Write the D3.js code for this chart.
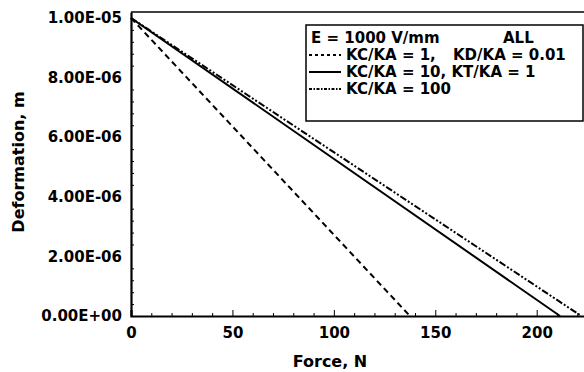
<!DOCTYPE html>
<html>
<head>
<script src="https://d3js.org/d3.v7.min.js"></script>
<style>
  body { margin: 0; background: #fff; }
  text { font-family: "DejaVu Sans", sans-serif; font-weight: bold; fill: #000; }
</style>
</head>
<body>
<svg id="chart" width="584" height="372"></svg>
<script>
// force (N) vs deformation (m), straight lines
const forceDashed = [0, 137.5];
const defDashed = [1e-5, 0];
const forceSolid = [0, 211.5];
const defSolid = [1e-5, 0];
const forceDashDot = [0, 222];
const defDashDot = [1e-5, 0];

const xTicks = [0, 50, 100, 150, 200];
const yTicks = [0, 2e-6, 4e-6, 6e-6, 8e-6, 1e-5];
const yTickLabels = ["0.00E+00", "2.00E-06", "4.00E-06", "6.00E-06", "8.00E-06", "1.00E-05"];

const legendTitle = "E = 1000 V/mm";
const legendTag = "ALL";
const legendRows = ["KC/KA = 1,", "KC/KA = 10, KT/KA = 1", "KC/KA = 100"];
const legendExtra = ["KD/KA = 0.01", "", ""];

const svg = d3.select('svg#chart');
const margins = {left: 131, top: 12, bottom: 316};

const xScale = d3.scaleLinear().domain([0, 230]).range([margins.left, margins.left + 230 * 2.0285]);
const yScale = d3.scaleLinear().domain([0, 1.02e-5]).range([margins.bottom, margins.top]);

// frame: top border
svg.append('line')
  .attr('x1', margins.left).attr('x2', 584).attr('y1', margins.top).attr('y2', margins.top)
  .attr('stroke', '#000').attr('stroke-width', 1.5);

// x axis, ticks pointing inward
const xMinor = d3.range(0, 230, 10).filter(v => v % 50 !== 0);
svg.append('g')
  .attr('transform', `translate(0,${margins.bottom})`)
  .call(d3.axisBottom(xScale).tickValues(xMinor).tickSize(-3).tickFormat(''))
  .call(g => g.select('.domain').remove());
const xAxis = svg.append('g')
  .attr('transform', `translate(0,${margins.bottom})`)
  .call(d3.axisBottom(xScale).tickValues(xTicks).tickSize(-6).tickPadding(14));
xAxis.select('.domain').attr('stroke-width', 2.2);
xAxis.selectAll('.tick text').style('font-size', '15px').attr('dy', '0.55em');

// y axis
const yMinor = d3.range(0, 10.2, 0.4).map(v => v * 1e-6).filter(v => Math.abs((v / 2e-6) - Math.round(v / 2e-6)) > 0.01);
svg.append('g')
  .attr('transform', `translate(${margins.left},0)`)
  .call(d3.axisLeft(yScale).tickValues(yMinor).tickSize(-3).tickFormat(''))
  .call(g => g.select('.domain').remove());
const yAxis = svg.append('g')
  .attr('transform', `translate(${margins.left},0)`)
  .call(d3.axisLeft(yScale).tickValues(yTicks).tickSize(0).tickPadding(9)
    .tickFormat((d, i) => yTickLabels[i]));
yAxis.select('.domain').attr('stroke-width', 2.2);
yAxis.selectAll('.tick text').style('font-size', '15px');

// axis titles
svg.append('text')
  .attr('x', 330).attr('y', 367)
  .attr('text-anchor', 'middle')
  .style('font-size', '16px')
  .text('Force, N');
svg.append('text')
  .attr('transform', 'translate(24,162) rotate(-90)')
  .attr('text-anchor', 'middle')
  .style('font-size', '16px')
  .text('Deformation, m');

// lines
const line = d3.line().x(d => xScale(d[0])).y(d => yScale(d[1]));
const series = [
  { f: forceDashed, d: defDashed, dash: '6,4' },
  { f: forceSolid, d: defSolid, dash: null },
  { f: forceDashDot, d: defDashDot, dash: '7,2,2,2,2,2' }
];
series.forEach(s => {
  svg.append('path')
    .datum(s.f.map((v, i) => [v, s.d[i]]))
    .attr('d', line)
    .attr('fill', 'none')
    .attr('stroke', '#000')
    .attr('stroke-width', 2)
    .attr('stroke-dasharray', s.dash);
});

// legend
const lg = svg.append('g');
lg.append('rect')
  .attr('x', 306).attr('y', 25).attr('width', 277).attr('height', 96)
  .attr('fill', '#fff').attr('stroke', '#000').attr('stroke-width', 1.5);
lg.append('text').attr('x', 311).attr('y', 43).style('font-size', '15px').text(legendTitle);
lg.append('text').attr('x', 503).attr('y', 43).style('font-size', '15px').text(legendTag);
const sampleDash = ['3,3', null, '3,1.5,1.5,1.5'];
legendRows.forEach((t, i) => {
  const y = 55 + i * 17;
  lg.append('line')
    .attr('x1', 309).attr('x2', 341).attr('y1', y).attr('y2', y)
    .attr('stroke', '#000').attr('stroke-width', 2)
    .attr('stroke-dasharray', sampleDash[i]);
  lg.append('text').attr('x', 346).attr('y', y + 5)
    .style('font-size', '15px')
    .text(t);
  if (legendExtra[i]) {
    lg.append('text').attr('x', 453).attr('y', y + 5)
      .style('font-size', '15px')
      .text(legendExtra[i]);
  }
});
</script>
</body>
</html>
